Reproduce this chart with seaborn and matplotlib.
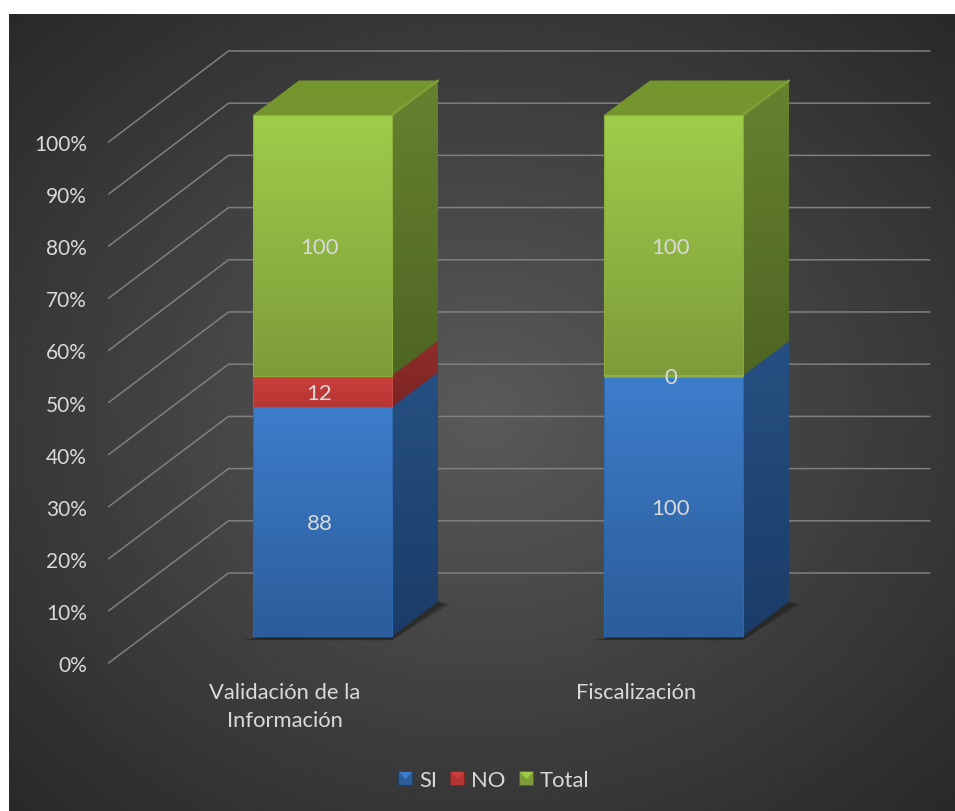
import numpy as np
import pandas as pd
import matplotlib.pyplot as plt
import seaborn as sns
from matplotlib.colors import to_rgb
from matplotlib.legend_handler import HandlerTuple
from matplotlib.lines import Line2D
from matplotlib.patches import Polygon

categories = ['Validación de la\nInformación', 'Fiscalización']
series_names = ['SI', 'NO', 'Total']
si_values = [88, 100]
no_values = [12, 0]
total_values = [100, 100]
pct_ticks = [0, 10, 20, 30, 40, 50, 60, 70, 80, 90, 100]

# front top, front bottom, side top, side bottom, edge
colors = {
    'SI': ('#3d7ecb', '#2c5c9a', '#265082', '#1b3c68', '#2f69ad'),
    'NO': ('#cb3f3c', '#b53532', '#8f2d2b', '#7c2523', '#c4484a'),
    'Total': ('#9fcd4a', '#7e9c3a', '#66822f', '#4f6523', '#8aad3c'),
}
TOP_COLOR = '#75962f'
TEXT = '#d9d9d9'

# oblique depth: one unit of depth, in category units and in percent
DEPTH_X = 120 / 351
DEPTH_Y = 90 / 5.21
WALL_FRONT = -0.3
WALL_BACK = 0.7
WALL_LEFT = -0.507
WALL_RIGHT = 1.491
LABEL_DEPTH = -0.315
BAR_DEPTH = 46 / 120
WALL_STRETCH = 1.002


def project(x, v, d):
    return x + d * DEPTH_X, v + d * DEPTH_Y


def gradient_fill(ax, clip, extent, c_top, c_bot, zorder):
    top, bot = np.array(to_rgb(c_top)), np.array(to_rgb(c_bot))
    t = np.linspace(0, 1, 64)[:, None, None]
    img = ax.imshow(top * (1 - t) + bot * t, extent=extent, origin='upper',
                    aspect='auto', zorder=zorder, interpolation='bilinear')
    img.set_clip_path(clip)


sns.set_theme(style='white')
plt.rcParams['font.family'] = ['Lato', 'DejaVu Sans']

fig = plt.figure(figsize=(9.55, 8.12), dpi=100, facecolor='white')
W, H = 955, 812

# dark panel with the radial shading
bg = fig.add_axes([9 / W, 0, (W - 9) / W, (H - 15) / H])
bg.axis('off')
yy, xx = np.mgrid[-1:1:300j, -1:1:300j]
r = np.sqrt(xx ** 2 + yy ** 2) / np.sqrt(2)
bg.imshow(0x5a - r * (0x5a - 0x29), cmap='gray', vmin=0, vmax=255, aspect='auto',
          interpolation='bilinear')

ax = fig.add_axes([95 / W, (H - 675) / H, 850 / W, 645 / H])
ax.patch.set_alpha(0)

si = np.array(si_values, dtype=float)
no = np.array(no_values, dtype=float)
total = np.array(total_values, dtype=float)
sums = si + no + total
shares = {'SI': si / sums * 100, 'NO': no / sums * 100, 'Total': total / sums * 100}
labels = {'SI': si_values, 'NO': no_values, 'Total': total_values}

bottom = np.zeros(len(categories))
for name in series_names:
    df = pd.DataFrame({'categoria': categories, 'share': shares[name]})
    sns.barplot(data=df, x='categoria', y='share', bottom=bottom, width=139 / 351,
                color=colors[name][0], saturation=1, errorbar=None, zorder=4, ax=ax)
    bottom = bottom + shares[name]

# gradient faces on top of the seaborn bars
for name, cont in zip(series_names, ax.containers):
    c_top, c_bot, s_top, s_bot, edge = colors[name]
    for patch in cont:
        x0, w = patch.get_x(), patch.get_width()
        v0, h = patch.get_y(), patch.get_height()
        if h == 0:
            continue
        x1, v1 = x0 + w, v0 + h
        gradient_fill(ax, patch, (x0, x1, v0, v1), c_top, c_bot, 3)
        patch.set_facecolor('none')
        patch.set_edgecolor(edge)
        patch.set_linewidth(0.8)

        side = Polygon([project(x1, v0, 0), project(x1, v0, BAR_DEPTH),
                        project(x1, v1, BAR_DEPTH), project(x1, v1, 0)],
                       facecolor=s_bot, edgecolor='none', zorder=2.5)
        ax.add_patch(side)
        sx1, sv1 = project(x1, v1, BAR_DEPTH)
        gradient_fill(ax, side, (x1, sx1, v0, sv1), s_top, s_bot, 2.6)

        # shadow under the bar, top face over it
        if v0 == 0:
            for grow, alpha in [(0.035, 0.3), (0.018, 0.45)]:
                ax.add_patch(Polygon([project(x0 - grow, -0.8, 0), project(x1, -0.8, 0),
                                      project(x1 + grow, -0.5, BAR_DEPTH),
                                      project(x1, 0, BAR_DEPTH)],
                                     facecolor='#1c1c1c', edgecolor='none', alpha=alpha,
                                     zorder=2))
        if v1 >= 99.99:
            ax.add_patch(Polygon([project(x0, v1, 0), project(x1, v1, 0),
                                  project(x1, v1, BAR_DEPTH), project(x0, v1, BAR_DEPTH)],
                                 facecolor=TOP_COLOR, edgecolor='none', zorder=3))
            rim = [project(x1, v1, 0), project(x1, v1, BAR_DEPTH)]
            ax.plot(*zip(*rim), color='#7fa338', lw=1.6, zorder=3.1, solid_capstyle='round')

    texts = ax.bar_label(cont, labels=[str(v) for v in labels[name]], label_type='center',
                         color=TEXT, fontsize=16, zorder=6)
    for t in texts:
        t.xyann = (-2.2, -1.4)

# walls: gridlines go along the floor side, then across the back
for p in pct_ticks:
    line = [project(WALL_LEFT, p, WALL_FRONT), project(WALL_LEFT, p * WALL_STRETCH, WALL_BACK),
            project(WALL_RIGHT, p * WALL_STRETCH, WALL_BACK)]
    ax.plot(*zip(*line), color='#808080', lw=1.1, zorder=1, solid_joinstyle='miter')

ax.set_xlim((95 - 322.5) / 351, (945 - 322.5) / 351)
ax.set_ylim((637 - 675) / 5.21, (637 - 30) / 5.21)

ax.set_yticks([project(0, p, WALL_FRONT)[1] for p in pct_ticks])
ax.set_yticklabels([f'{p}%' for p in pct_ticks], color=TEXT, fontsize=15)
ax.set_xticks([project(i, 0, LABEL_DEPTH)[0] for i in range(len(categories))])
ax.set_xticklabels(categories, color=TEXT, fontsize=15.8, linespacing=1.45)
ax.tick_params(axis='both', length=0)
ax.tick_params(axis='y', pad=5.8)
ax.tick_params(axis='x', pad=6)
ax.set_xlabel('')
ax.set_ylabel('')
sns.despine(ax=ax, left=True, bottom=True)

handles = []
for name in series_names:
    base = Line2D([], [], ls='', marker='s', ms=10.5, mfc=colors[name][1],
                  mec=colors[name][3], mew=0.6)
    glint = Line2D([], [], ls='', marker=[(-1, 1), (1, 1), (0, -0.1)], ms=9.5,
                   mfc=colors[name][0], mec='none')
    handles.append((base, glint))
fig.legend(handles, series_names, loc='center', bbox_to_anchor=(493 / W, 1 - 781 / H),
           ncols=3, frameon=False, labelcolor=TEXT, fontsize=15.8, handlelength=0.75,
           handletextpad=0.25, columnspacing=0.55,
           handler_map={tuple: HandlerTuple(ndivide=1, pad=0)})

fig.savefig('out.png', dpi=100)
